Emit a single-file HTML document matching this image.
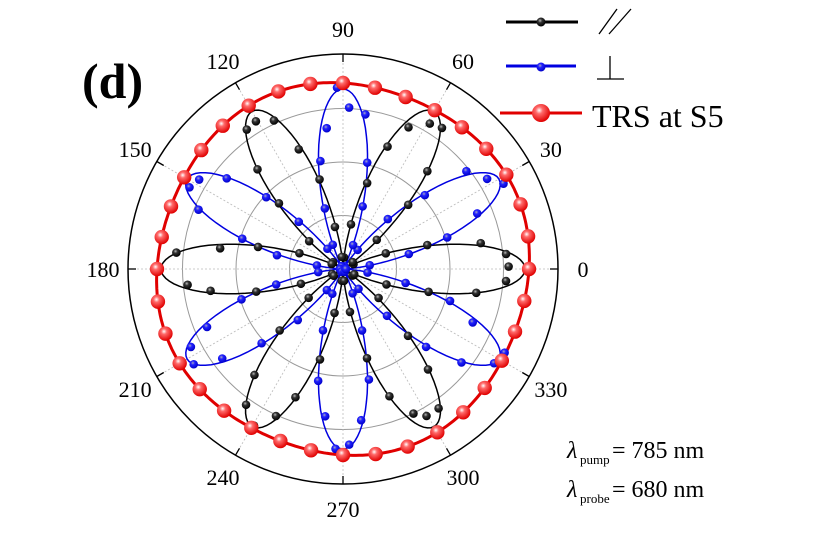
<!DOCTYPE html>
<html><head><meta charset="utf-8"><style>
html,body{margin:0;padding:0;background:#fff;}
svg{display:block;font-family:"Liberation Serif",serif;}
</style></head><body>
<svg id="s" width="830" height="544" viewBox="0 0 830 544" xmlns="http://www.w3.org/2000/svg">
<defs>
<radialGradient id="gr" cx="0.4" cy="0.35" r="0.65"><stop offset="0" stop-color="#fff"/><stop offset="0.3" stop-color="#ff6a6a"/><stop offset="1" stop-color="#e00000"/></radialGradient>
<radialGradient id="gk" cx="0.4" cy="0.35" r="0.65"><stop offset="0" stop-color="#bbb"/><stop offset="0.35" stop-color="#333"/><stop offset="1" stop-color="#000"/></radialGradient>
<radialGradient id="gb" cx="0.4" cy="0.35" r="0.65"><stop offset="0" stop-color="#aab"/><stop offset="0.35" stop-color="#2222ff"/><stop offset="1" stop-color="#0000c8"/></radialGradient>
</defs>
<g id="g"></g>
<text x="82" y="98" font-size="50" font-weight="bold">(d)</text>
<line x1="506" y1="22" x2="578" y2="22" stroke="#000" stroke-width="3"/>
<circle cx="541" cy="22" r="4.5" fill="url(#gk)"/>
<line x1="599" y1="34" x2="617" y2="9" stroke="#000" stroke-width="1.3"/>
<line x1="609" y1="34" x2="631" y2="9" stroke="#000" stroke-width="1.3"/>
<line x1="506" y1="66" x2="576" y2="66" stroke="#0000e0" stroke-width="3"/>
<circle cx="541" cy="67" r="4.5" fill="url(#gb)"/>
<line x1="610" y1="56" x2="610" y2="79" stroke="#000" stroke-width="1.3"/>
<line x1="597" y1="79" x2="624" y2="79" stroke="#000" stroke-width="1.3"/>
<line x1="500" y1="113" x2="582" y2="113" stroke="#e00000" stroke-width="3"/>
<circle cx="541" cy="113" r="9" fill="url(#gr)"/>
<text x="592" y="127" font-size="32">TRS at S5</text>
<text x="567" y="458" font-size="24" font-style="italic">λ</text>
<text x="580" y="464" font-size="13">pump</text>
<text x="612" y="458" font-size="24">= 785 nm</text>
<text x="567" y="497" font-size="24" font-style="italic">λ</text>
<text x="580" y="503" font-size="13">probe</text>
<text x="612" y="497" font-size="24">= 680 nm</text>
</svg>
<script>
var g=document.getElementById('g'),cx=343,cy=269,R=215,h='';
function P(r,d){var a=d*Math.PI/180;return [cx+r*Math.cos(a),cy-r*Math.sin(a)];}
[53.5,107,160.5].forEach(function(r){h+='<circle cx="'+cx+'" cy="'+cy+'" r="'+r+'" fill="none" stroke="#999" stroke-width="1"/>';});
for(var d=0;d<360;d+=30){var p=P(R,d);h+='<line x1="'+cx+'" y1="'+cy+'" x2="'+p[0]+'" y2="'+p[1]+'" stroke="#bbb" stroke-width="0.8" stroke-dasharray="2,2"/>';
var q=P(R-8,d);h+='<line x1="'+q[0]+'" y1="'+q[1]+'" x2="'+p[0]+'" y2="'+p[1]+'" stroke="#000" stroke-width="1.3"/>';
var t=P(240,d);h+='<text x="'+t[0]+'" y="'+(t[1]+8)+'" font-size="22" text-anchor="middle">'+d+'</text>';}
h+='<circle cx="'+cx+'" cy="'+cy+'" r="'+R+'" fill="none" stroke="#000" stroke-width="1.5"/>';
function curve(f,col,w){var s='';for(var d=0;d<=360;d+=1){var p=P(f(d),d);s+=(d?'L':'M')+p[0].toFixed(1)+' '+p[1].toFixed(1);}return '<path d="'+s+'Z" fill="none" stroke="'+col+'" stroke-width="'+w+'"/>';}
var fk=function(d){var c=Math.cos(3*d*Math.PI/180);return 182*c*c;};
var fb=function(d){var c=Math.sin(3*d*Math.PI/180);return 180*c*c;};
var fr=function(d){return 186+3*Math.sin(d*Math.PI/45);};
h+=curve(fk,'#000',1.5)+curve(fb,'#0000e0',1.5)+curve(fr,'#e00000',3);
function seed(i){var x=Math.sin(i*12.9898)*43758.5453;return x-Math.floor(x);}
for(var d=0;d<360;d+=5){var n=(seed(d)-0.5)*0.12;var p=P(fk(d)*(0.97+n),d+(seed(d+1)-0.5)*2);h+='<circle cx="'+p[0]+'" cy="'+p[1]+'" r="4.3" fill="url(#gk)"/>';}
for(var d=2.5;d<360;d+=5){var n=(seed(d+7)-0.5)*0.12;var p=P(fb(d)*(0.97+n),d+(seed(d+3)-0.5)*2);h+='<circle cx="'+p[0]+'" cy="'+p[1]+'" r="4.3" fill="url(#gb)"/>';}
for(var d=0;d<360;d+=10){var p=P(fr(d),d);h+='<circle cx="'+p[0]+'" cy="'+p[1]+'" r="7.2" fill="url(#gr)"/>';}
g.innerHTML=h;
</script>
</body></html>
